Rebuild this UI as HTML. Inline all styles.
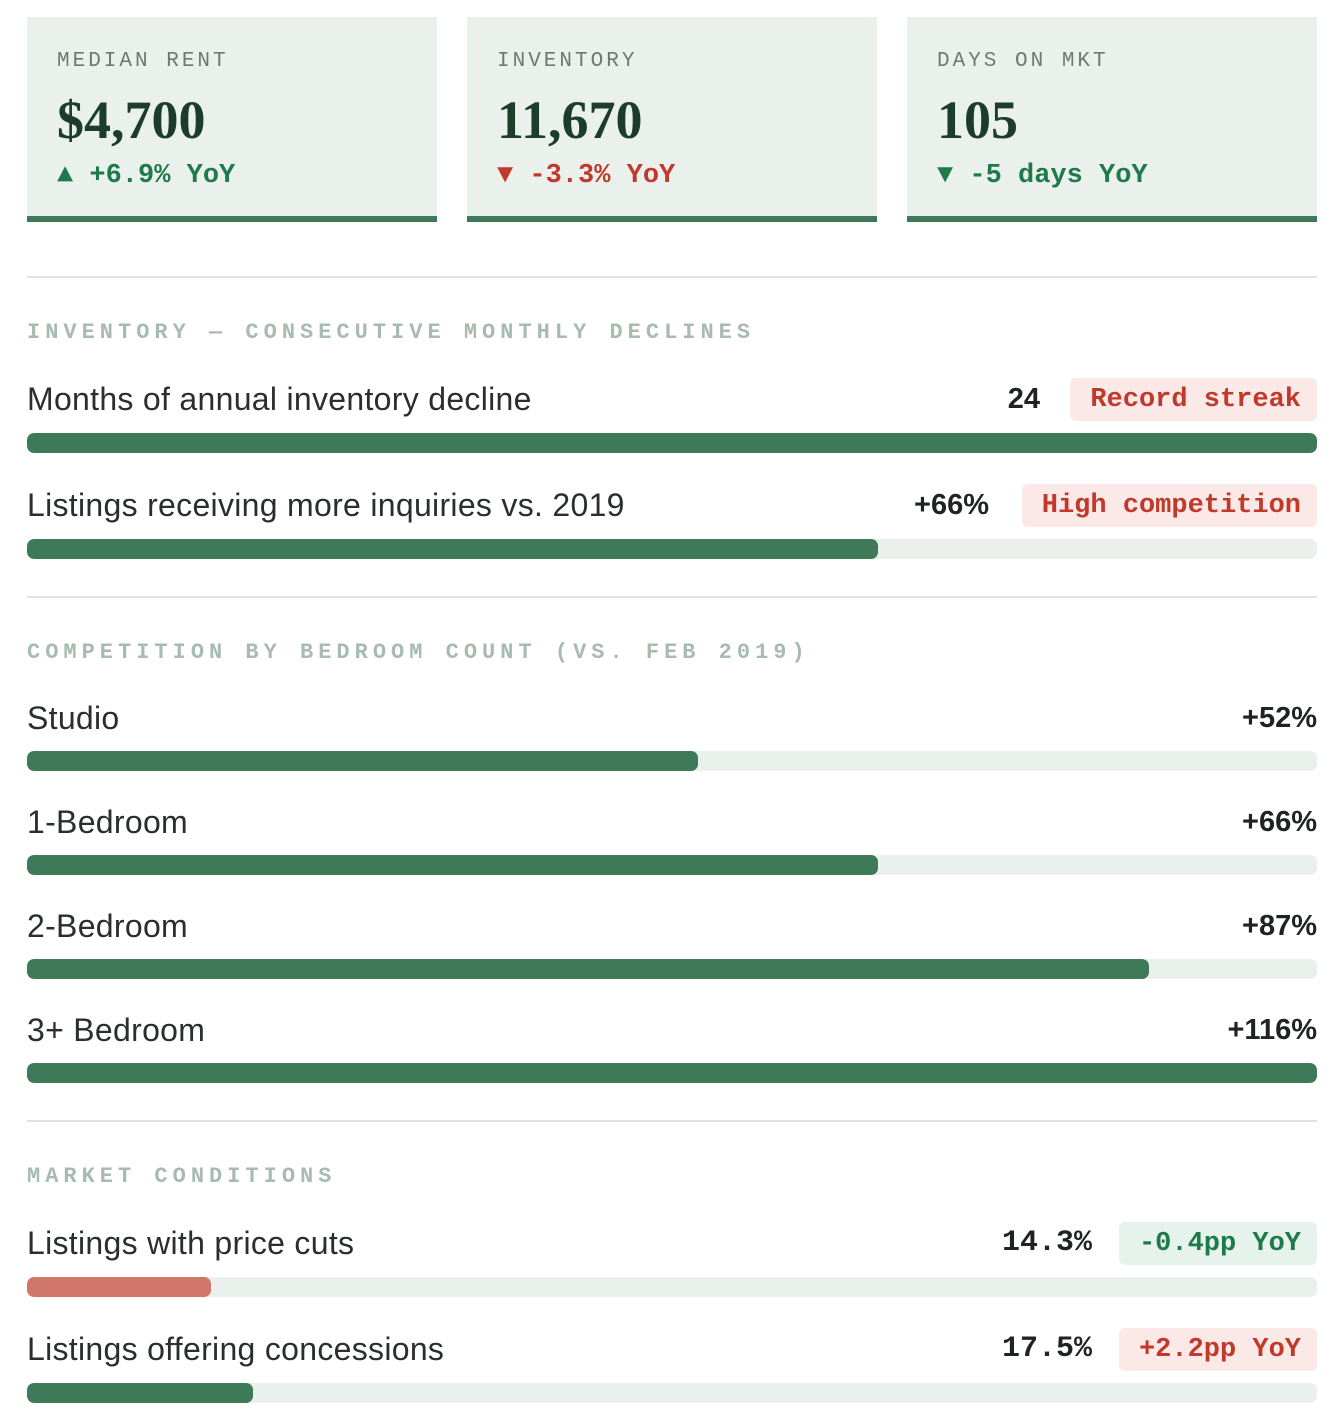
<!DOCTYPE html>
<html><head><meta charset="utf-8"><style>
body{margin:0;width:1336px;height:1424px;background:#fff;position:relative;overflow:hidden;font-family:"Liberation Sans",sans-serif;}
.card{position:absolute;top:17px;width:410px;height:199px;background:#eaf0ec;border-bottom:6px solid #3e7a58;}
.clab{position:absolute;left:30px;top:33px;font:21px "Liberation Mono",monospace;letter-spacing:3px;color:#6b7a72;}
.cval{position:absolute;left:30px;top:72px;font:bold 54px "Liberation Serif",serif;color:#1d3d2c;letter-spacing:0px;}
.cdel{position:absolute;left:30px;top:144px;font:bold 27px "Liberation Mono",monospace;}
.div{position:absolute;left:27px;width:1290px;height:2px;background:#dbe4df;}
.sec{position:absolute;left:27px;font:bold 22px "Liberation Mono",monospace;letter-spacing:5px;color:#a8bbb1;}
.lab{position:absolute;left:27px;font:32px "Liberation Sans",sans-serif;color:#2a2f2c;line-height:40px;letter-spacing:0.3px;}
.val{position:absolute;font:bold 29px "Liberation Sans",sans-serif;color:#1f2421;line-height:40px;text-align:right;}
.mval{position:absolute;font:bold 30px "Liberation Mono",monospace;color:#1f2421;line-height:40px;text-align:right;}
.badge{position:absolute;height:43px;display:flex;align-items:center;border-radius:6px;font:bold 27px "Liberation Mono",monospace;padding:0 16px 0 20px;right:19px;box-sizing:border-box;}
.red{background:#fbe9e8;color:#c0392b;}
.grn{background:#e6f2ec;color:#1e7a4a;}
.track{position:absolute;left:27px;width:1290px;height:20px;border-radius:7px;background:#eaf0ec;overflow:hidden;}
.fill{height:100%;border-radius:7px;background:#3e7a58;}
</style></head><body>
<div class="card" style="left:27px"><div class="clab">MEDIAN RENT</div><div class="cval">$4,700</div><div class="cdel" style="color:#1e7a4a">▲ +6.9% YoY</div></div>
<div class="card" style="left:467px"><div class="clab">INVENTORY</div><div class="cval">11,670</div><div class="cdel" style="color:#c0392b">▼ -3.3% YoY</div></div>
<div class="card" style="left:907px"><div class="clab">DAYS ON MKT</div><div class="cval">105</div><div class="cdel" style="color:#1e7a4a">▼ -5 days YoY</div></div>

<div class="div" style="top:276px"></div>
<div class="sec" style="top:320px">INVENTORY — CONSECUTIVE MONTHLY DECLINES</div>
<div class="lab" style="top:379px">Months of annual inventory decline</div>
<div class="val" style="top:379px;right:296px">24</div>
<div class="badge red" style="top:378px">Record streak</div>
<div class="track" style="top:433px"><div class="fill" id="f0"></div></div>
<div class="lab" style="top:485px">Listings receiving more inquiries vs. 2019</div>
<div class="val" style="top:485px;right:347px">+66%</div>
<div class="badge red" style="top:484px">High competition</div>
<div class="track" style="top:539px"><div class="fill" id="f1"></div></div>

<div class="div" style="top:596px"></div>
<div class="sec" style="top:640px">COMPETITION BY BEDROOM COUNT (VS. FEB 2019)</div>
<div class="lab" style="top:698px">Studio</div>
<div class="val" style="top:698px;right:19px">+52%</div>
<div class="track" style="top:751px"><div class="fill" id="f2"></div></div>
<div class="lab" style="top:802px">1-Bedroom</div>
<div class="val" style="top:802px;right:19px">+66%</div>
<div class="track" style="top:855px"><div class="fill" id="f3"></div></div>
<div class="lab" style="top:906px">2-Bedroom</div>
<div class="val" style="top:906px;right:19px">+87%</div>
<div class="track" style="top:959px"><div class="fill" id="f4"></div></div>
<div class="lab" style="top:1010px">3+ Bedroom</div>
<div class="val" style="top:1010px;right:19px">+116%</div>
<div class="track" style="top:1063px"><div class="fill" id="f5"></div></div>

<div class="div" style="top:1120px"></div>
<div class="sec" style="top:1164px">MARKET CONDITIONS</div>
<div class="lab" style="top:1223px">Listings with price cuts</div>
<div class="mval" style="top:1223px;right:244px">14.3%</div>
<div class="badge grn" style="top:1222px">-0.4pp YoY</div>
<div class="track" style="top:1277px"><div class="fill" id="f6" style="background:#d0766b"></div></div>
<div class="lab" style="top:1329px">Listings offering concessions</div>
<div class="mval" style="top:1329px;right:244px">17.5%</div>
<div class="badge red" style="top:1328px">+2.2pp YoY</div>
<div class="track" style="top:1383px"><div class="fill" id="f7"></div></div>
<script>
const inventoryValues=[100,66];
const bedroomValues=[52,66,87,116];
const marketValues=[14.3,17.5];
const all=inventoryValues.concat(bedroomValues,marketValues);
function xScale(v){return Math.min(v,100)/100*1290;}
all.forEach(function(v,i){document.getElementById('f'+i).style.width=xScale(v)+'px';});
</script>
</body></html>
